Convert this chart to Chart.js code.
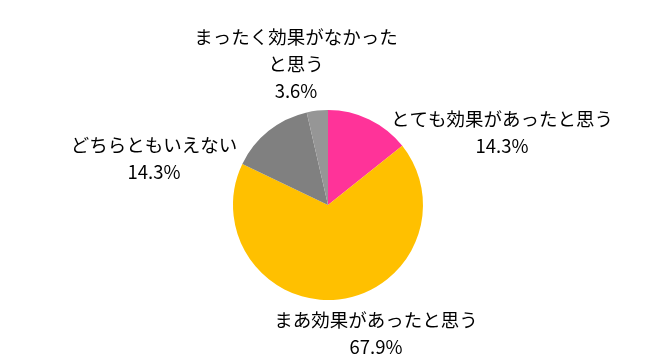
<!DOCTYPE html>
<html>
<head>
<meta charset="utf-8">
<script src="https://cdn.jsdelivr.net/npm/chart.js@4"></script>
<style>
  html, body { margin: 0; padding: 0; background: #fff; }
  #wrap { width: 646px; height: 363px; }
</style>
</head>
<body>
<div id="wrap"><canvas id="pieChart" width="646" height="363"></canvas></div>
<script>
// data
const categories = [
  ["とても効果があったと思う"],
  ["まあ効果があったと思う"],
  ["どちらともいえない"],
  ["まったく効果がなかった", "と思う"]
];
const values = [14.3, 67.9, 14.3, 3.6];
const valueLabels = ["14.3%", "67.9%", "14.3%", "3.6%"];
const colors = ["#FF3399", "#FFC000", "#808080", "#969696"];

// where each label sits, relative to the pie centre (first line centre)
const labelOffsets = [
  [174, -86],
  [48, 115],
  [-174, -60],
  [-32, -168]
];

const labelPlugin = {
  id: "sliceLabels",
  afterDraw(chart) {
    const ctx = chart.ctx;
    const arc = chart.getDatasetMeta(0).data[0];
    const cx = arc.x, cy = arc.y;
    ctx.save();
    ctx.font = '18.5px "Noto Sans CJK JP"';
    ctx.fillStyle = "#000";
    ctx.textAlign = "center";
    ctx.textBaseline = "middle";
    const lineH = 27;
    categories.forEach((lines, i) => {
      const x = cx + labelOffsets[i][0];
      let y = cy + labelOffsets[i][1];
      lines.concat([valueLabels[i]]).forEach((t) => {
        ctx.fillText(t, x, y);
        y += lineH;
      });
    });
    ctx.restore();
  }
};

const chartPie = document.getElementById("pieChart");
new Chart(chartPie, {
  type: "pie",
  data: {
    labels: categories.map((c) => c.join("")),
    datasets: [{
      data: values,
      backgroundColor: colors,
      borderWidth: 0
    }]
  },
  options: {
    responsive: false,
    animation: false,
    layout: { padding: { left: 233, right: 223, top: 110, bottom: 63 } },
    plugins: {
      legend: { display: false },
      tooltip: { enabled: false }
    }
  },
  plugins: [labelPlugin]
});
</script>
</body>
</html>
